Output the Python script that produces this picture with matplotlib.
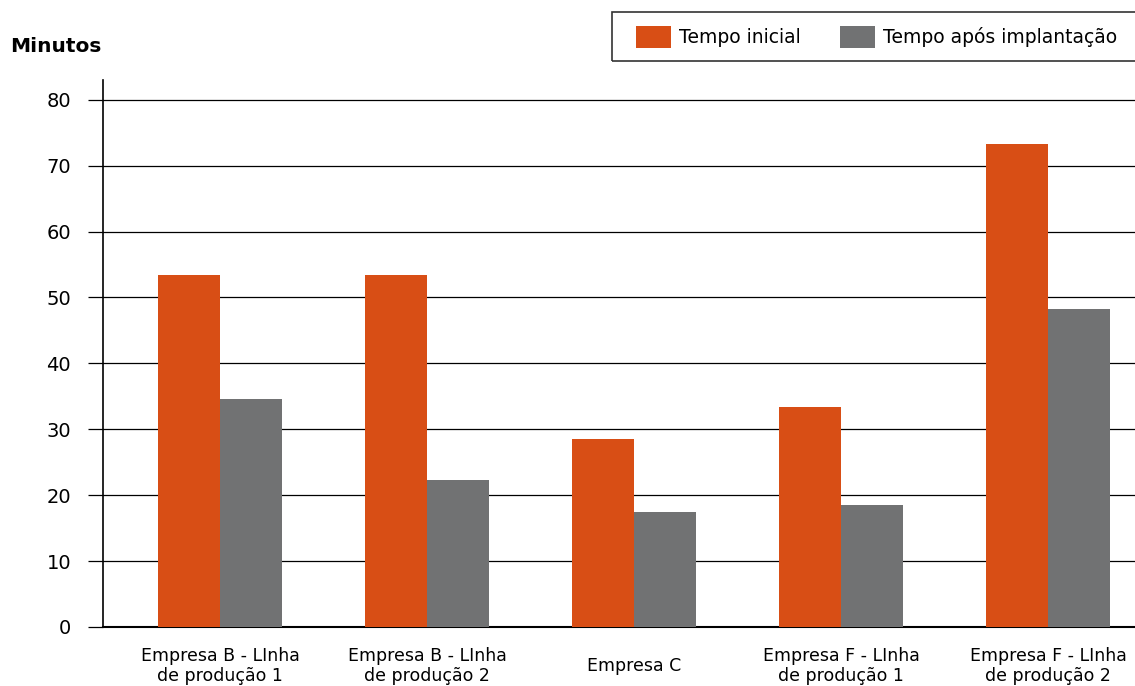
import matplotlib.pyplot as plt
from matplotlib.patches import Rectangle
import numpy as np

plt.rcParams['font.family'] = ['DejaVu Sans']

categorias = ["Empresa B - LInha\nde produção 1", "Empresa B - LInha\nde produção 2",
              "Empresa C", "Empresa F - LInha\nde produção 1", "Empresa F - LInha\nde produção 2"]
tempo_inicial = [53.4, 53.4, 28.5, 33.4, 73.3]
tempo_apos = [34.6, 22.3, 17.5, 18.5, 48.3]

laranja = "#d84e15"
cinza = "#717273"

fig = plt.figure(figsize=(11.35, 6.86), dpi=100)
ax = fig.add_axes([103/1135, 59/686, 1 - 103/1135, 547/686])

x = np.arange(len(categorias))
w = 0.3
ax.bar(x - w/2, tempo_inicial, w, color=laranja, label="Tempo inicial", zorder=3)
ax.bar(x + w/2, tempo_apos, w, color=cinza, label="Tempo após implantação", zorder=3)

ax.set_xlim(-0.565, 4.42)
ax.set_ylim(0, 83)
ax.set_yticks(range(0, 90, 10))
ax.yaxis.grid(True, color="black", linewidth=0.9, zorder=0)
ax.tick_params(axis='y', length=11, width=0.9, labelsize=14, pad=12)
ax.tick_params(axis='x', length=0, labelsize=12.5, pad=28)
ax.set_xticks(x)
ax.set_xticklabels(categorias, linespacing=1.15, va="center")
for s in ["top", "right"]:
    ax.spines[s].set_visible(False)
ax.spines["left"].set_linewidth(1.2)
ax.spines["bottom"].set_linewidth(1.5)

fig.text(10/1135, 1 - 47/686, "Minutos", fontsize=14.5, fontweight="bold", va="center")

# legenda com moldura desenhada à parte
fig.patches.append(Rectangle((612/1135, 1 - 61/686), 530/1135, 49/686, transform=fig.transFigure,
                             fill=False, edgecolor="#333333", linewidth=1.2))
leg = fig.legend(loc="center left", bbox_to_anchor=(636/1135, 1 - 37/686), ncol=2,
                 fontsize=13.5, frameon=False, handlelength=1.85, handleheight=1.4,
                 columnspacing=2.1, borderpad=0, handletextpad=0.45, borderaxespad=0)

plt.savefig("out.png", format='png')
